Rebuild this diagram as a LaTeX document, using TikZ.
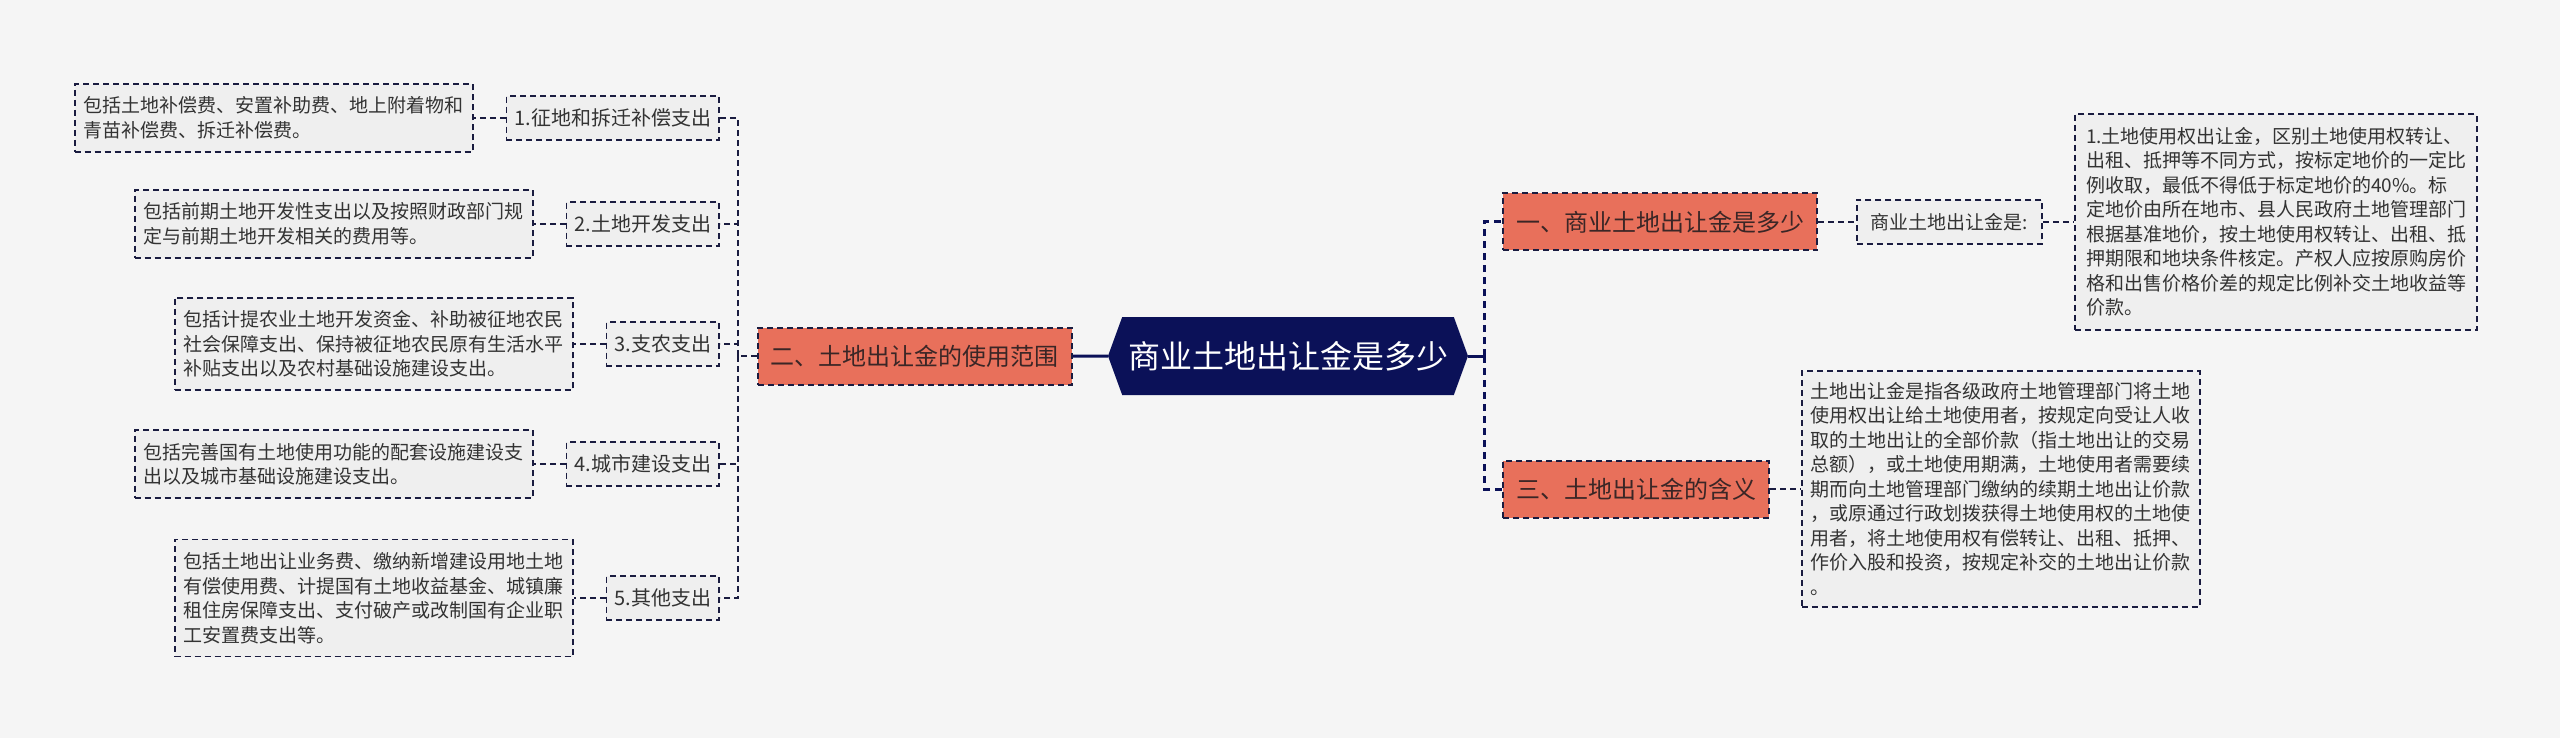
\documentclass[tikz,border=0pt]{standalone}
\usepackage{fontspec}
\setmainfont{Noto Sans CJK SC}
\usepackage{xcolor}
\usetikzlibrary{positioning,shapes.symbols}
\definecolor{bgc}{HTML}{F5F5F5}
\definecolor{navy}{HTML}{0B1158}
\definecolor{coral}{HTML}{E8705B}
\definecolor{edge}{HTML}{1A1C40}
\definecolor{leaf}{HTML}{EFEFEF}
\definecolor{ink}{HTML}{333333}
\definecolor{topicink}{HTML}{3A2626}

\begin{document}
\begin{tikzpicture}[x=1pt,y=-1pt,node distance=32pt,
  rootbox/.style={signal, signal to=west and east, signal pointer angle=140, fill=navy, text=white,
    minimum width=360pt, minimum height=78pt, inner xsep=0pt, font=\fontsize{32}{38}\selectfont},
  topic/.style={rectangle, draw=edge, line width=2pt, dash pattern=on 6pt off 4pt, fill=coral, text=topicink,
    minimum height=57pt, inner xsep=13pt, font=\fontsize{24}{29}\selectfont},
  item/.style={rectangle, draw=edge, line width=1.8pt, dash pattern=on 6pt off 4pt, fill=leaf, text=ink,
    minimum height=44pt, inner xsep=8pt, font=\fontsize{20}{24}\selectfont},
  note/.style={rectangle, draw=edge, line width=1.8pt, dash pattern=on 6pt off 4pt, fill=leaf, text=ink,
    align=left, inner xsep=9pt, inner ysep=13pt, font=\fontsize{19}{24.5}\selectfont},
  trunk/.style={draw=navy, line width=3pt},
  trunkdash/.style={draw=navy, line width=3pt, dash pattern=on 7pt off 5pt},
  twig/.style={draw=edge, line width=1.8pt, dash pattern=on 6pt off 4pt}]
  \fill[bgc] (0,0) rectangle (2560,738);
  \useasboundingbox (0,0) rectangle (2560,738);

  \node (root) [rootbox] at (1288,356) {商业土地出让金是多少};
  \node (o2) [topic, left=35pt of root] {二、土地出让金的使用范围};
  \node (o1) [topic, anchor=west] at (1502,222) {一、商业土地出让金是多少};
  \node (o3) [topic, anchor=west] at (1502,489) {三、土地出让金的含义};

  \node (s1) [item, font=\fontsize{19}{24}\selectfont, inner xsep=14pt, right=38pt of o1] {商业土地出让金是:};
  \node (b1) [note, inner xsep=11pt, right=31pt of s1] {1.土地使用权出让金，区别土地使用权转让、\\出租、抵押等不同方式，按标定地价的一定比\\例收取，最低不得低于标定地价的40\%。标\\定地价由所在地市、县人民政府土地管理部门\\根据基准地价，按土地使用权转让、出租、抵\\押期限和地块条件核定。产权人应按原购房价\\格和出售价格价差的规定比例补交土地收益等\\价款。};
  \node (b2) [note, inner ysep=11pt, right=31pt of o3] {土地出让金是指各级政府土地管理部门将土地\\使用权出让给土地使用者，按规定向受让人收\\取的土地出让的全部价款（指土地出让的交易\\总额），或土地使用期满，土地使用者需要续\\期而向土地管理部门缴纳的续期土地出让价款\\，或原通过行政划拨获得土地使用权的土地使\\用者，将土地使用权有偿转让、出租、抵押、\\作价入股和投资，按规定补交的土地出让价款\\。};

  \node (c1) [item, anchor=east] at (720,118) {1.征地和拆迁补偿支出};
  \node (c2) [item, anchor=east] at (720,224) {2.土地开发支出};
  \node (c3) [item, anchor=east] at (720,344) {3.支农支出};
  \node (c4) [item, anchor=east] at (720,464) {4.城市建设支出};
  \node (c5) [item, anchor=east] at (720,598) {5.其他支出};

  \node (d1) [note, left=of c1] {包括土地补偿费、安置补助费、地上附着物和\\青苗补偿费、拆迁补偿费。};
  \node (d2) [note, left=of c2] {包括前期土地开发性支出以及按照财政部门规\\定与前期土地开发相关的费用等。};
  \node (d3) [note, left=of c3] {包括计提农业土地开发资金、补助被征地农民\\社会保障支出、保持被征地农民原有生活水平\\补贴支出以及农村基础设施建设支出。};
  \node (d4) [note, left=of c4] {包括完善国有土地使用功能的配套设施建设支\\出以及城市基础设施建设支出。};
  \node (d5) [note, left=of c5] {包括土地出让业务费、缴纳新增建设用地土地\\有偿使用费、计提国有土地收益基金、城镇廉\\租住房保障支出、支付破产或改制国有企业职\\工安置费支出等。};

  \coordinate (lj) at (738,356);
  \coordinate (rj) at (1484,356);

  \draw[trunk] (root) -- (o2);
  \draw[trunk] (root.east) -- (rj);
  \draw[trunkdash] (rj) |- (o1);
  \draw[trunkdash] (rj) |- (o3);
  \draw[twig] (o1) -- (s1);
  \draw[twig] (s1) -- (b1);
  \draw[twig] (o3) -- (b2);

  \draw[twig] (o2) -- (lj);
  \draw[twig] (lj) |- (c1);
  \draw[twig] (lj) |- (c2);
  \draw[twig] (lj) |- (c3);
  \draw[twig] (lj) |- (c4);
  \draw[twig] (lj) |- (c5);
  \draw[twig] (c1.west) -- (d1.east |- c1.west);
  \draw[twig] (c2.west) -- (d2.east |- c2.west);
  \draw[twig] (c3.west) -- (d3.east |- c3.west);
  \draw[twig] (c4.west) -- (d4.east |- c4.west);
  \draw[twig] (c5.west) -- (d5.east |- c5.west);
\end{tikzpicture}
\end{document}
